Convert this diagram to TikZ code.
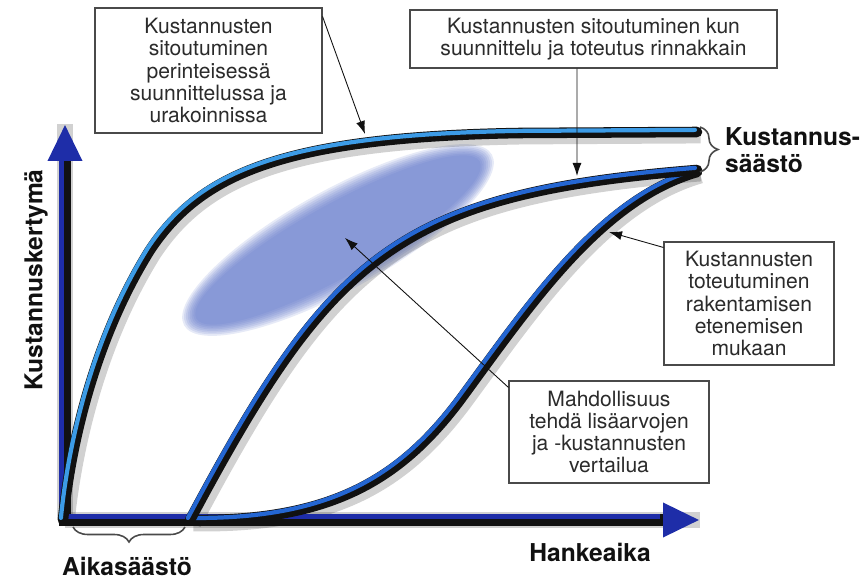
\documentclass[tikz,border=0pt]{standalone}
\usepackage{fontspec}
\setmainfont{TeX Gyre Heros}
\usetikzlibrary{arrows.meta, calc, decorations.pathreplacing}
\definecolor{cink}{HTML}{111111}
\definecolor{cnavy}{HTML}{1E2DA8}
\definecolor{csky}{HTML}{3C9BE6}
\definecolor{cblue}{HTML}{2466D2}
\definecolor{cblob}{HTML}{5A71C7}
\definecolor{cframe}{HTML}{4A4A4A}
\definecolor{ctext}{HTML}{2B2B2B}
\tikzset{
  box/.style={draw=cframe, fill=white, line width=0.6pt, align=center, inner sep=2pt, text=ctext, font=\fontsize{12}{12.6}\selectfont},
  lead/.style={-{Latex[length=2.6mm, width=1.8mm]}, draw=cink, line width=0.5pt},
  axislab/.style={font=\fontsize{14}{15.5}\selectfont\bfseries, text=cink},
  dropline/.style={draw=black, opacity=0.18, line width=9pt, xshift=2pt, yshift=-2pt},
  core/.style={draw=cink, line width=6pt, line cap=round},
  glowsky/.style={draw=csky, line width=2.4pt, line cap=round, xshift=-1.2pt, yshift=1.2pt},
  glowblue/.style={draw=cblue, line width=2.4pt, line cap=round, xshift=-1.2pt, yshift=1.2pt},
  axisline/.style={draw=cink, line width=7pt, line cap=rect, -{Triangle[length=7.4mm, width=6.4mm, color=cnavy]}},
  axisglow/.style={draw=cnavy, line width=3pt},
  curly/.style={decorate, decoration={brace, amplitude=#1}, draw=cframe, line width=0.9pt},
}

\begin{document}
\begin{tikzpicture}[x=0.2mm, y=-0.2mm]
  \useasboundingbox (0,0) rectangle (864,580);
  % blurred area between the curves
  \coordinate (blob) at (338,240);
  \foreach \k in {0,...,7}
    \fill[cblob, opacity=0.15, rotate around={29:(blob)}] (blob) ellipse [x radius=176-2*\k, y radius=50-2*\k];

  \coordinate (o) at (65,520);
  \coordinate (ytop) at (65,124);
  \coordinate (ybase) at (65,161);
  \coordinate (xend) at (700,520);
  \coordinate (xbase) at (660,520);

  % shadows
  \draw[dropline] (o) -- (ytop); \draw[dropline] (o) -- (xend);
  \draw[dropline] (63,520) .. controls (72,430) and (100,330) .. (150,250) .. controls (200,175) and (280,137) .. (520,133) -- (697,132);
  \draw[dropline] (190,520) .. controls (331,256) and (397,194) .. (697,170);
  \draw[dropline] (190,520) .. controls (330,522) and (400,480) .. (460,400) .. controls (530,305) and (600,200) .. (697,172);

  % axes
  \draw[axisline] (o) -- (ytop); \draw[axisglow] ([xshift=-2pt]o) -- ([xshift=-2pt]ybase);
  \draw[axisline] (o) -- (xend); \draw[axisglow] ([yshift=2pt]o) -- ([yshift=2pt]xbase);

  % curves
  \foreach \layer in {core, glowblue}
    \draw[\layer] (190,520) .. controls (330,522) and (400,480) .. (460,400) .. controls (530,305) and (600,200) .. (697,172);
  \foreach \layer in {core, glowblue}
    \draw[\layer] (190,520) .. controls (331,256) and (397,194) .. (697,170);
  \foreach \layer in {core, glowsky}
    \draw[\layer] (63,520) .. controls (72,430) and (100,330) .. (150,250) .. controls (200,175) and (280,137) .. (520,133) -- (697,132);

  \node[axislab, rotate=90] (ylab) at (36,280) {Kustannuskertymä};
  \node[axislab] (hanke) at (590,552) {Hankeaika};
  \node[axislab] (aika) at (127,566) {Aikasäästö};
  \node[axislab, align=left, anchor=west] (saasto) at (719,150) {Kustannus-\\säästö};

  \coordinate (t0) at (185,527); \coordinate (t1) at (73,527);
  \draw[curly=3mm] (t0) -- (t1);
  \coordinate (c0) at (700,127); \coordinate (c1) at (700,172);
  \draw[curly=3.6mm] (c0) -- (c1);

  \node[box, minimum width=45.4mm, minimum height=25mm] (b1) at (208.5,70.5) {Kustannusten\\sitoutuminen\\perinteisessä\\suunnittelussa ja\\urakoinnissa};
  \node[box, minimum width=73.4mm, minimum height=11.6mm] (b2) at (593.5,39) {Kustannusten sitoutuminen kun\\suunnittelu ja toteutus rinnakkain};
  \node[box, minimum width=34mm, minimum height=24.6mm] (b3) at (749,303.5) {Kustannusten\\toteutuminen\\rakentamisen\\etenemisen\\mukaan};
  \node[box, minimum width=40mm, minimum height=20.4mm] (b4) at (609,432) {Mahdollisuus\\tehdä lisäarvojen\\ja -kustannusten\\vertailua};

  \coordinate (p1) at (365,134);
  \coordinate (p2) at (577,176);
  \coordinate (p3) at (609,232);
  \coordinate (p4) at (345,238);
  \draw[lead] ([yshift=-1.8mm]b1.north east) -- (p1);
  \draw[lead] ([xshift=-3.3mm]b2.south) -- (p2);
  \draw[lead] ([yshift=-1.2mm]b3.north west) -- (p3);
  \draw[lead] ([yshift=-1.4mm]b4.north west) -- (p4);
\end{tikzpicture}
\end{document}
